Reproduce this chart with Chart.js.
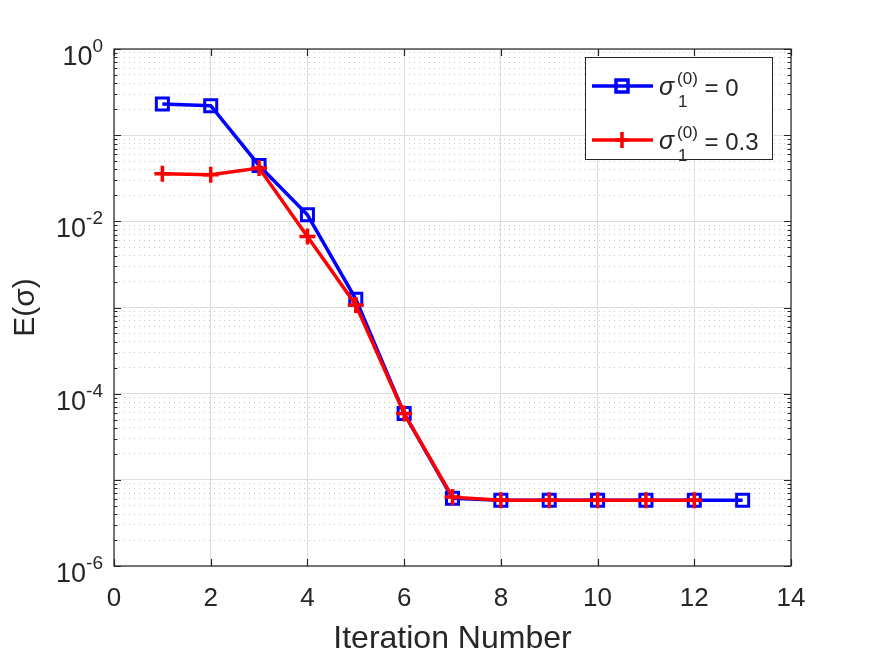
<!DOCTYPE html>
<html>
<head>
<meta charset="utf-8">
<script src="https://cdn.jsdelivr.net/npm/chart.js@4.4.1/dist/chart.umd.min.js"></script>
<style>
	html, body { margin: 0; padding: 0; background: #ffffff; }
	#wrap { width: 875px; height: 656px; position: relative; }
</style>
</head>
<body>
<div id="wrap"><canvas id="errChart" width="875" height="656"></canvas></div>
<script>
// iteration numbers for each run
const itersA = [1, 2, 3, 4, 5, 6, 7, 8, 9, 10, 11, 12, 13];
const itersB = [1, 2, 3, 4, 5, 6, 7, 8, 9, 10, 11, 12];

// E(sigma)
const errA = [0.23, 0.22, 0.0445, 0.0119, 1.25e-3, 5.9e-5, 6.1e-6, 5.8e-6, 5.8e-6, 5.8e-6, 5.8e-6, 5.8e-6, 5.8e-6];
const errB = [0.0356, 0.0347, 0.0415, 6.67e-3, 1.07e-3, 5.9e-5, 6.3e-6, 5.8e-6, 5.8e-6, 5.8e-6, 5.8e-6, 5.8e-6];

const legendNames = [{ sup: '(0)', sub: '1', rest: ' = 0' }, { sup: '(0)', sub: '1', rest: ' = 0.3' }];
const xTicks = [0, 2, 4, 6, 8, 10, 12, 14];
const yDecades = [-6, -5, -4, -3, -2, -1, 0];
const yLabelDecades = [-6, -4, -2, 0];

const FONT = "'Liberation Sans', Arial, Helvetica, sans-serif";
const INK = '#262626';

function toPoints(xs, ys) {
	return xs.map((x, i) => ({ x: x, y: ys[i] }));
}

function logTicks() {
	const out = [];
	yDecades.forEach((e, i) => {
		const top = i === yDecades.length - 1 ? 1 : 9;
		for (let m = 1; m <= top; m++) out.push({ value: m * Math.pow(10, e) });
	});
	return out;
}

function isDecade(v) {
	const l = Math.log10(v);
	return Math.abs(l - Math.round(l)) < 1e-9;
}

// frame, tick marks, tick labels, axis titles, legend
const matlabAxes = {
	id: 'matlabAxes',
	afterDraw(chart) {
		const ctx = chart.ctx;
		const a = chart.chartArea;
		const xs = chart.scales.x;
		const ys = chart.scales.y;
		ctx.save();
		ctx.strokeStyle = INK;
		ctx.lineWidth = 1.2;
		ctx.beginPath();
		// ticks on all four sides, pointing inwards
		xTicks.forEach(v => {
			const px = Math.round(xs.getPixelForValue(v)) + 0.5;
			ctx.moveTo(px, a.bottom); ctx.lineTo(px, a.bottom - 7);
			ctx.moveTo(px, a.top); ctx.lineTo(px, a.top + 7);
		});
		ys.ticks.forEach(t => {
			const py = Math.round(ys.getPixelForValue(t.value)) + 0.5;
			const len = isDecade(t.value) ? 7 : 3.5;
			ctx.moveTo(a.left, py); ctx.lineTo(a.left + len, py);
			ctx.moveTo(a.right, py); ctx.lineTo(a.right - len, py);
		});
		ctx.stroke();
		ctx.strokeRect(a.left, a.top, a.right - a.left, a.bottom - a.top);

		ctx.fillStyle = INK;
		// x tick labels
		ctx.font = '26px ' + FONT;
		ctx.textAlign = 'center';
		ctx.textBaseline = 'alphabetic';
		xTicks.forEach(v => ctx.fillText(String(v), xs.getPixelForValue(v), a.bottom + 40));

		// y tick labels 10^k
		yLabelDecades.forEach(e => {
			const py = ys.getPixelForValue(Math.pow(10, e));
			const sup = String(e);
			ctx.font = '19px ' + FONT;
			const wSup = ctx.measureText(sup).width;
			ctx.textAlign = 'right';
			ctx.fillText(sup, a.left - 11, py + 3);
			ctx.font = '27px ' + FONT;
			ctx.fillText('10', a.left - 11 - wSup, py + 16);
		});

		// axis titles
		ctx.font = '32px ' + FONT;
		ctx.textAlign = 'center';
		ctx.fillText('Iteration Number', (a.left + a.right) / 2, 648);
		ctx.font = '30px ' + FONT;
		ctx.save();
		ctx.translate(28, (a.top + a.bottom) / 2);
		ctx.rotate(-Math.PI / 2);
		ctx.fillText('E(\u03c3)', 0, 6);
		ctx.restore();

		// legend box
		const lx = 585, ly = 57, lw = 187, lh = 102;
		ctx.fillStyle = '#ffffff';
		ctx.fillRect(lx, ly, lw, lh);
		ctx.lineWidth = 1;
		ctx.strokeStyle = INK;
		ctx.strokeRect(lx + 0.5, ly + 0.5, lw, lh);
		chart.data.datasets.forEach((ds, i) => {
			const cy = 86 + i * 54;
			ctx.strokeStyle = ds.borderColor;
			ctx.lineWidth = 3.5;
			ctx.beginPath();
			ctx.moveTo(592, cy); ctx.lineTo(653, cy);
			ctx.stroke();
			ctx.beginPath();
			if (ds.pointStyle === 'rect') {
				ctx.rect(622 - 6, cy - 6, 12, 12);
			} else {
				ctx.moveTo(622 - 7, cy); ctx.lineTo(622 + 7, cy);
				ctx.moveTo(622, cy - 8); ctx.lineTo(622, cy + 8);
			}
			ctx.stroke();

			const nm = legendNames[i];
			ctx.fillStyle = INK;
			ctx.textAlign = 'left';
			ctx.font = 'italic 25px ' + FONT;
			ctx.fillText('\u03c3', 659, cy + 9);
			const sx = 659 + ctx.measureText('\u03c3').width + 3;
			ctx.font = '17px ' + FONT;
			ctx.fillText(nm.sup, sx, cy - 2);
			ctx.fillText(nm.sub, sx + 1, cy + 21);
			const w = Math.max(ctx.measureText(nm.sup).width, ctx.measureText(nm.sub).width);
			ctx.font = '24px ' + FONT;
			ctx.fillText(nm.rest, sx + w, cy + 10);
		});
		ctx.restore();
	}
};

const errChart = new Chart(document.getElementById('errChart').getContext('2d'), {
	type: 'line',
	data: {
		datasets: [{
			label: 'sigma1 = 0',
			data: toPoints(itersA, errA),
			borderColor: '#0000ff',
			backgroundColor: 'rgba(0,0,0,0)',
			borderWidth: 3.5,
			pointStyle: 'rect',
			pointRadius: 8.5,
			pointBorderWidth: 3,
			pointBorderColor: '#0000ff',
			pointBackgroundColor: 'rgba(0,0,0,0)',
			tension: 0,
			order: 2
		}, {
			label: 'sigma1 = 0.3',
			data: toPoints(itersB, errB),
			borderColor: '#ff0000',
			backgroundColor: 'rgba(0,0,0,0)',
			borderWidth: 3.5,
			pointStyle: 'cross',
			pointRadius: 8,
			pointBorderWidth: 3.5,
			pointBorderColor: '#ff0000',
			tension: 0,
			order: 1
		}]
	},
	options: {
		responsive: false,
		animation: false,
		events: [],
		layout: {
			padding: { left: 114, right: 84, top: 49, bottom: 90 }
		},
		plugins: {
			legend: { display: false },
			tooltip: { enabled: false }
		},
		scales: {
			x: {
				type: 'linear',
				min: 0,
				max: 14,
				afterBuildTicks: (s) => { s.ticks = xTicks.map(v => ({ value: v })); },
				afterFit: (s) => { s.height = 0; },
				ticks: { display: false },
				grid: { color: '#dedede', lineWidth: 1, drawTicks: false },
				border: { display: false }
			},
			y: {
				type: 'logarithmic',
				min: 1e-6,
				max: 1,
				afterBuildTicks: (s) => { s.ticks = logTicks(); },
				afterFit: (s) => { s.width = 0; },
				ticks: { display: false },
				grid: {
					drawTicks: false,
					lineWidth: 1,
					color: (c) => (c.tick && isDecade(c.tick.value)) ? '#dedede' : '#c4c4c4'
				},
				border: {
					display: false,
					dash: (c) => (c.tick && isDecade(c.tick.value)) ? [] : [1, 4]
				}
			}
		}
	},
	plugins: [matlabAxes]
});
</script>
</body>
</html>
